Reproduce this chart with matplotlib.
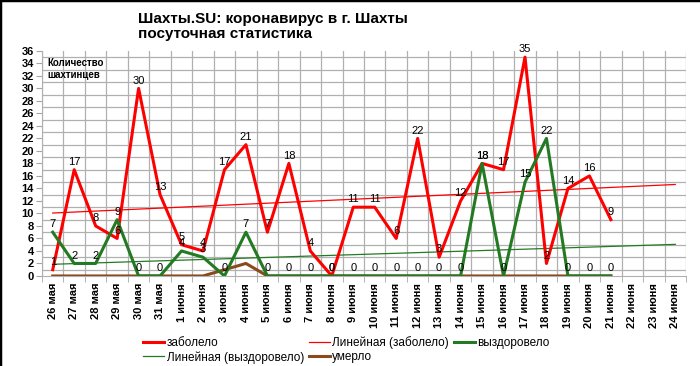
import numpy as np
import matplotlib
matplotlib.use("Agg")
import matplotlib.pyplot as plt
from matplotlib.lines import Line2D

plt.rcParams['font.family'] = ['Liberation Sans', 'DejaVu Sans']

# dates on the x axis
dates = ['26 мая', '27 мая', '28 мая', '29 мая', '30 мая', '31 мая',
         '1 июня', '2 июня', '3 июня', '4 июня', '5 июня', '6 июня',
         '7 июня', '8 июня', '9 июня', '10 июня', '11 июня', '12 июня',
         '13 июня', '14 июня', '15 июня', '16 июня', '17 июня', '18 июня',
         '19 июня', '20 июня', '21 июня', '22 июня', '23 июня', '24 июня']

sick = [1, 17, 8, 6, 30, 13, 5, 4, 17, 21, 7, 18, 4, 0, 11, 11, 6, 22, 3,
        12, 18, 17, 35, 2, 14, 16, 9]
recovered = [7, 2, 2, 9, 0, 0, 4, 3, 0, 7, 0, 0, 0, 0, 0, 0, 0, 0, 0,
             0, 18, 0, 15, 22, 0, 0, 0]
died = [0, 0, 0, 0, 0, 0, 0, 0, 1, 2, 0, 0, 0, 0, 0, 0, 0, 0, 0,
        0, 0, 0, 0, 0, 0, 0, 0]

red = '#ff0000'
green = '#237a23'
brown = '#8b4a1c'

fig = plt.figure(figsize=(7, 3.66), dpi=100)
fig.patch.set_facecolor('white')
ax = fig.add_axes([0.06, 0.246, 0.92, 0.615])

x_all = np.arange(len(dates))
x = np.arange(len(sick))

# linear trend lines (excel "Линейная")
p_sick = np.polyfit(x, sick, 1)
p_rec = np.polyfit(x, recovered, 1)

l1, = ax.plot(x, sick, color=red, lw=2.2, zorder=4, label='заболело')
l2, = ax.plot(x_all, np.polyval(p_sick, x_all), color=red, lw=0.9, zorder=3,
              label='Линейная (заболело)')
l3, = ax.plot(x, recovered, color=green, lw=2.2, zorder=4, label='выздоровело')
l4, = ax.plot(x_all, np.polyval(p_rec, x_all), color=green, lw=0.9, zorder=3,
              label='Линейная (выздоровело)')
l5, = ax.plot(x, died, color=brown, lw=2.2, zorder=3.5, label='умерло')

for xi, v in zip(x, sick):
    ax.annotate(str(v), (xi, v), xytext=(0, 2), textcoords='offset points',
                ha='center', va='bottom', fontsize=8, zorder=6)
for xi, v in zip(x, recovered):
    ax.annotate(str(v), (xi, v), xytext=(0, 2), textcoords='offset points',
                ha='center', va='bottom', fontsize=8, zorder=6)

ax.set_xlim(-0.5, len(dates) - 0.5)
ax.set_ylim(0, 36)
ax.set_yticks(np.arange(0, 37, 2))
ax.set_yticks(np.arange(0, 37, 1), minor=True)
ax.set_xticks(x_all)
ax.set_xticklabels(dates, rotation=90, fontsize=8, fontweight='bold')
ax.set_xticks(np.arange(-0.5, len(dates), 1), minor=True)
ax.tick_params(axis='x', which='major', length=0, pad=5)
ax.tick_params(axis='x', which='minor', length=4, color='#a6a6a6')
ax.tick_params(axis='y', which='major', length=4, color='#a6a6a6',
               labelsize=8, pad=2)
ax.tick_params(axis='y', which='minor', length=0)
for t in ax.get_yticklabels():
    t.set_fontweight('bold')

ax.grid(True, which='minor', color='#b0b0b0', lw=0.9)
ax.grid(False, which='major')
for s in ax.spines.values():
    s.set_color('#b0b0b0')
ax.spines['top'].set_visible(False)
ax.spines['right'].set_visible(False)
ax.set_axisbelow(True)

ax.text(0.008, 0.97, 'Количество\nшахтинцев', transform=ax.transAxes,
        fontsize=7, fontweight='bold', va='top', ha='left', linespacing=1.3)

fig.text(138 / 700, 1 - 12 / 366, 'Шахты.SU: коронавирус в г. Шахты\nпосуточная статистика',
         fontsize=11, fontweight='bold', ha='left', va='top', linespacing=1.1)

handles = [l1, l4, l2, l5, l3]
leg = fig.legend(handles=handles, labels=[h.get_label() for h in handles],
                 ncol=3, loc='center left', bbox_to_anchor=(143 / 700, 1 - 350 / 366),
                 frameon=False, fontsize=8.5, handlelength=1.8,
                 handletextpad=0.2, columnspacing=0.4, labelspacing=0.15,
                 borderpad=0, borderaxespad=0)

# border on the left and top of the image
fig.add_artist(Line2D([0, 0], [0, 1], transform=fig.transFigure, color='black', lw=2.5))
fig.add_artist(Line2D([0, 1], [1, 1], transform=fig.transFigure, color='black', lw=2.5))

fig.savefig('out.png', dpi=100)
